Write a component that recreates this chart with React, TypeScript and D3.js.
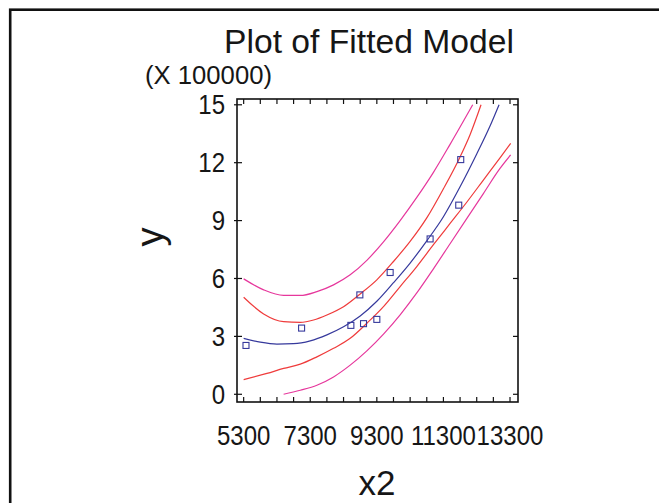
import React from "react";
import * as d3 from "d3";

// Observations
const obsX = [5370, 7040, 8520, 8790, 8900, 9300, 9700, 10900, 11760, 11820];
const obsY = [2.53, 3.43, 3.57, 5.15, 3.66, 3.88, 6.31, 8.05, 9.8, 12.16];

// Fitted line
const fitX = [5300, 5800, 6300, 6800, 7300, 7800, 8300, 8800, 9300, 9800, 10300, 10800, 11300, 11800, 12300, 12700, 12970];
const fitY = [2.9, 2.7, 2.6, 2.62, 2.77, 3.08, 3.5, 4.06, 4.82, 5.78, 6.8, 7.95, 9.2, 10.75, 12.45, 13.9, 15.0];

// Confidence limits
const confUpX = [5300, 5900, 6500, 7000, 7400, 7800, 8300, 8800, 9300, 9800, 10300, 10800, 11300, 11800, 12100, 12430];
const confUpY = [5.03, 4.16, 3.76, 3.73, 3.85, 4.11, 4.54, 5.2, 5.93, 6.88, 7.92, 9.14, 10.65, 12.3, 13.45, 15.0];
const confLoX = [5300, 6000, 6500, 7000, 7500, 8000, 8500, 9000, 9500, 10000, 10500, 11000, 11500, 12000, 12500, 13000, 13320];
const confLoY = [0.76, 1.08, 1.34, 1.56, 1.94, 2.38, 2.9, 3.68, 4.54, 5.58, 6.62, 7.75, 8.85, 9.95, 11.1, 12.25, 13.0];

// Prediction limits
const predUpX = [5300, 5900, 6500, 7000, 7500, 8000, 8500, 9000, 9500, 10000, 10500, 11000, 11500, 12180];
const predUpY = [5.98, 5.41, 5.12, 5.12, 5.32, 5.67, 6.19, 6.94, 7.9, 9.0, 10.2, 11.5, 12.95, 15.0];
const predLoX = [6500, 7000, 7500, 8000, 8500, 9000, 9500, 10000, 10500, 11000, 11500, 12000, 12500, 13000, 13320];
const predLoY = [0.0, 0.21, 0.47, 0.9, 1.51, 2.25, 3.12, 4.12, 5.25, 6.5, 7.8, 9.1, 10.4, 11.7, 12.4];

const xTickLabels = ["5300", "7300", "9300", "11300", "13300"];
const yTickValues = [0, 3, 6, 9, 12, 15];
const xMinorTicks = d3.range(5300, 13301, 500);

const W = 659;
const H = 503;
const plot = { left: 237, right: 518, top: 99, bottom: 402 };

const BLUE = "#36399c";
const RED = "#ef3b3b";
const MAGENTA = "#e6379c";
const INK = "#161616";

function NText({ x, y, sx = 0.89, anchor = "middle", size = 27, children }: any) {
  return (
    <text
      transform={`translate(${x},${y}) scale(${sx},1)`}
      textAnchor={anchor}
      fontSize={size}
      fill={INK}
    >
      {children}
    </text>
  );
}

export default function App() {
  const x = d3.scaleLinear().domain([5100, 13540]).range([plot.left, plot.right]);
  const y = d3.scaleLinear().domain([-0.4, 15.3]).range([plot.bottom, plot.top]);

  const mk = (xs: number[], ys: number[]) =>
    d3
      .line<number>()
      .x((_, i) => x(xs[i]))
      .y((_, i) => y(ys[i]))
      .curve(d3.curveMonotoneX)(xs) || "";

  const font = "'Liberation Sans', Arial, sans-serif";

  return (
    <svg
      width={W}
      height={H}
      style={{ position: "absolute", left: 0, top: 0, background: "#fff" }}
      fontFamily={font}
    >
      <rect x={0} y={0} width={W} height={H} fill="#fff" />
      {/* outer frame */}
      <rect x={10.2} y={9.7} width={800} height={700} fill="none" stroke="#111" strokeWidth={2.6} />

      {/* title */}
      <text x={369} y={53} textAnchor="middle" fontSize={33} fill={INK} textLength={290} lengthAdjust="spacingAndGlyphs">
        Plot of Fitted Model
      </text>
      <text x={145} y={84} fontSize={25} fill={INK} textLength={127} lengthAdjust="spacingAndGlyphs">
        (X 100000)
      </text>

      <defs>
        <clipPath id="pc">
          <rect x={plot.left} y={plot.top} width={plot.right - plot.left} height={plot.bottom - plot.top} />
        </clipPath>
      </defs>

      {/* curves */}
      <g clipPath="url(#pc)" fill="none" strokeWidth={1.2}>
        <path d={mk(predUpX, predUpY)} stroke={MAGENTA} />
        <path d={mk(predLoX, predLoY)} stroke={MAGENTA} />
        <path d={mk(confUpX, confUpY)} stroke={RED} />
        <path d={mk(confLoX, confLoY)} stroke={RED} />
        <path d={mk(fitX, fitY)} stroke={BLUE} />
      </g>

      {/* points */}
      {obsX.map((v, i) => (
        <rect
          key={i}
          x={x(v) - 3}
          y={y(obsY[i]) - 3}
          width={6}
          height={6}
          fill="none"
          stroke={BLUE}
          strokeWidth={1.1}
        />
      ))}

      {/* axes frame */}
      <rect
        x={plot.left}
        y={plot.top}
        width={plot.right - plot.left}
        height={plot.bottom - plot.top}
        fill="none"
        stroke="#111"
        strokeWidth={1.6}
      />
      {xMinorTicks.map((t) => (
        <g key={t}>
          <line x1={x(t)} x2={x(t)} y1={plot.bottom} y2={plot.bottom - 5} stroke="#111" strokeWidth={1.2} />
          <line x1={x(t)} x2={x(t)} y1={plot.top} y2={plot.top + 5} stroke="#111" strokeWidth={1.2} />
        </g>
      ))}
      {yTickValues.map((t) => (
        <g key={t}>
          <line x1={plot.left - 3} x2={plot.left + 5} y1={y(t)} y2={y(t)} stroke="#111" strokeWidth={1.2} />
          <line x1={plot.right} x2={plot.right - 5} y1={y(t)} y2={y(t)} stroke="#111" strokeWidth={1.2} />
          <NText x={225} y={y(t) + 9.5} anchor="end">
            {t}
          </NText>
        </g>
      ))}
      {xTickLabels.map((l) => (
        <NText key={l} x={x(+l)} y={445}>
          {l}
        </NText>
      ))}

      <text x={377} y={495} textAnchor="middle" fontSize={35} fill={INK}>
        x2
      </text>
      <text transform="translate(163,237) rotate(-90)" textAnchor="middle" fontSize={38} fill={INK}>
        y
      </text>
    </svg>
  );
}
